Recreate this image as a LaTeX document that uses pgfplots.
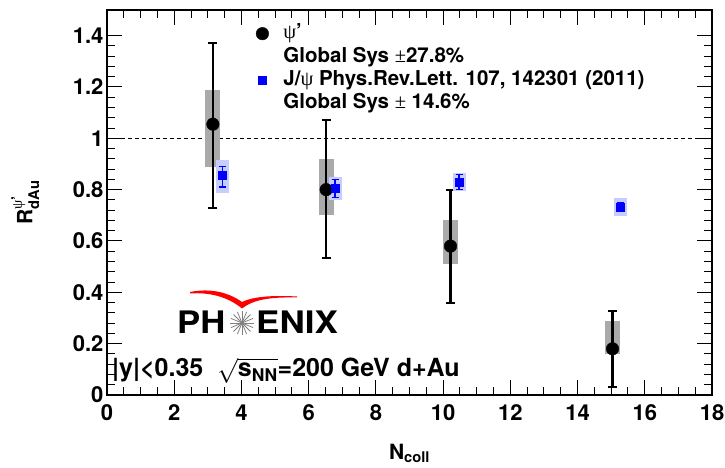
\documentclass[border=0pt]{standalone}
\usepackage{amsmath}
\usepackage{fontspec}
\setmainfont{TeX Gyre Heros}
\newfontfamily\symf{Liberation Serif}
\usepackage{pgfplots}
\usepackage{pgfplotstable}
\pgfplotsset{compat=1.18}

\newcommand{\psiup}{{\symf\mdseries ψ}}
\definecolor{sysgray}{RGB}{170,170,170}
\definecolor{sysblue}{RGB}{200,205,255}

% psi' : point, stat low/high, sys low/high
\pgfplotstableread{
x y stlo sthi sylo syhi
3.15 1.055 0.73 1.37 0.887 1.19
6.52 0.80 0.533 1.07 0.70 0.92
10.22 0.58 0.358 0.80 0.51 0.68
15.04 0.18 0.03 0.327 0.16 0.29
}\psidata
% J/psi PRL 107, 142301
\pgfplotstableread{
x y stlo sthi sylo syhi
3.43 0.855 0.81 0.89 0.786 0.914
6.79 0.805 0.77 0.84 0.76 0.85
10.48 0.83 0.80 0.86 0.795 0.865
15.28 0.732 0.716 0.748 0.697 0.767
}\jpsidata

\pgfplotsset{
  legmark/.style={legend image code/.code={%
    \path[draw=none, fill=none] (0pt,-6pt) rectangle (20pt,6pt);
    \draw[##1] plot coordinates {(10pt,0pt)};}},
  legempty/.style={legend image code/.code={%
    \path[draw=none, fill=none] (0pt,-6pt) rectangle (20pt,6pt);}},
}

\begin{document}
\begin{tikzpicture}
\begin{axis}[
  scale only axis, width=605pt, height=385pt,
  xmin=0, xmax=18, ymin=0, ymax=1.5,
  xtick={0,2,...,18}, ytick={0,0.2,0.4,0.6,0.8,1,1.2,1.4},
  minor x tick num=3, minor y tick num=4,
  tick align=inside, tick pos=both,
  major tick length=15pt, minor tick length=8pt,
  axis line style={line width=1.2pt},
  tick style={line width=1pt, black},
  tick label style={font=\bfseries\fontsize{22}{22}\selectfont},
  xticklabel style={yshift=-6pt},
  /pgf/number format/assume math mode=true,
  xlabel={\textbf{N}$_{\textbf{coll}}$},
  xlabel style={font=\bfseries\fontsize{21}{21}\selectfont, at={(axis description cs:0.5,0)}, anchor=base, yshift=-64pt},
  ylabel={\textbf{R}$^{\text{\psiup'}}_{\textbf{dAu}}$},
  ylabel style={font=\bfseries\fontsize{21}{21}\selectfont, at={(axis description cs:-0.135,0.5)}, anchor=center},
  legend cell align=left,
  legend style={draw=none, fill=none, at={(rel axis cs:0.240,0.965)}, anchor=north west,
    font=\bfseries\fontsize{20.5}{22}\selectfont, inner sep=0pt, row sep=3.4pt,
    nodes={inner sep=0pt, text height=15pt, text depth=5pt},
    /tikz/every odd column/.append style={column sep=11pt}},
]
% y = 1 reference
\addplot[forget plot, black, line width=0.8pt, dash pattern=on 4pt off 3pt] coordinates {(0,1) (18,1)};

% psi' systematic boxes
\addplot[forget plot, only marks, mark=none,
  error bars/.cd, y dir=both, y explicit, error mark=none,
  error bar style={line width=15pt, sysgray}]
  table[x=x, y=y, y error plus expr={\thisrow{syhi}-\thisrow{y}}, y error minus expr={\thisrow{y}-\thisrow{sylo}}] {\psidata};
% psi' statistical bars
\addplot[forget plot, only marks, mark=none,
  error bars/.cd, y dir=both, y explicit,
  error bar style={line width=2.6pt, black},
  error mark options={rotate=90, black, line width=2pt, mark size=4.5pt}]
  table[x=x, y=y, y error plus expr={\thisrow{sthi}-\thisrow{y}}, y error minus expr={\thisrow{y}-\thisrow{stlo}}] {\psidata};
\addplot[forget plot, only marks, mark=*, mark size=6.3pt, black] table[x=x, y=y] {\psidata};

% J/psi systematic boxes
\addplot[forget plot, only marks, mark=none,
  error bars/.cd, y dir=both, y explicit, error mark=none,
  error bar style={line width=13pt, sysblue}]
  table[x=x, y=y, y error plus expr={\thisrow{syhi}-\thisrow{y}}, y error minus expr={\thisrow{y}-\thisrow{sylo}}] {\jpsidata};
\addplot[forget plot, only marks, mark=none,
  error bars/.cd, y dir=both, y explicit,
  error bar style={line width=1.5pt, blue},
  error mark options={rotate=90, blue, line width=1.5pt, mark size=3.5pt}]
  table[x=x, y=y, y error plus expr={\thisrow{sthi}-\thisrow{y}}, y error minus expr={\thisrow{y}-\thisrow{stlo}}] {\jpsidata};
\addplot[forget plot, only marks, mark=square*, mark size=4pt, blue] table[x=x, y=y] {\jpsidata};

% legend
\addlegendimage{only marks, mark=*, mark size=6.3pt, black, draw=black, fill=black, legmark}
\addlegendentry{\psiup'}
\addlegendimage{legempty}
\addlegendentry{Global Sys {\symf\mdseries ±}27.8\%}
\addlegendimage{only marks, mark=square*, mark size=4pt, blue, draw=blue, fill=blue, legmark}
\addlegendentry{J/\psiup{} Phys.Rev.Lett. 107, 142301 (2011)}
\addlegendimage{legempty}
\addlegendentry{Global Sys {\symf\mdseries ±} 14.6\%}
\end{axis}

\begin{scope}[shift={(current axis.south west)}, xshift=-107pt, yshift=395pt, x=1pt, y=-1pt]
  % PHENIX logo
  \fill[red] (190,292) .. controls (210,288) and (228,292) .. (242,302)
    .. controls (252,297) and (270,295) .. (297,296.5)
    -- (297,297.5) .. controls (272,297) and (254,299) .. (242,308.5)
    .. controls (228,297) and (210,292) .. (190,293.5) -- cycle;
  \foreach \a in {0,22.5,...,337.5}
    \draw[gray, line width=0.8pt] (242,323) -- ++(\a:12);
  \node[anchor=base west, inner sep=0pt, xscale=1.12, font=\bfseries\fontsize{31}{31}\selectfont] at (177,334) {PH};
  \node[anchor=base west, inner sep=0pt, xscale=1.13, font=\bfseries\fontsize{31}{31}\selectfont] at (256,334) {ENIX};
  \node[anchor=base west, inner sep=0pt, font=\bfseries\fontsize{25}{25}\selectfont] at (112,377)
    {|y|<0.35\ \ $\sqrt{\textbf{s}_{\textbf{NN}}}$=200 GeV d+Au};
  \pgfresetboundingbox
  \path[use as bounding box] (0,0) rectangle (725,468);
\end{scope}
\end{tikzpicture}
\end{document}
